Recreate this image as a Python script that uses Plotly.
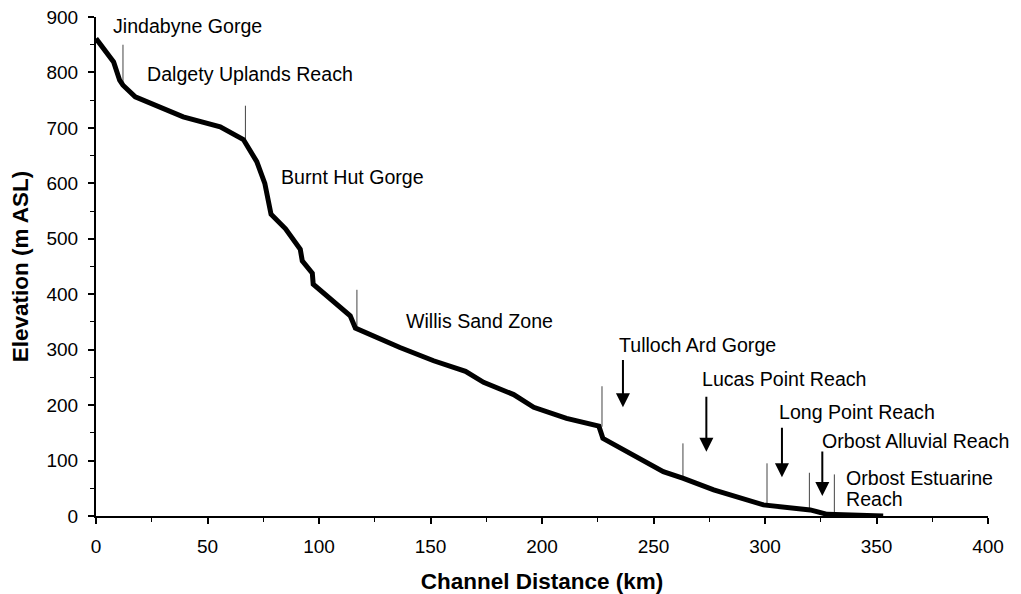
import plotly.graph_objects as go

# Long profile (channel distance km, elevation m ASL)
profile_km = [0, 7.9, 10.6, 12.1, 17.6, 39.1, 55.7, 66.1, 72.1, 75.7, 78.5, 85, 91.6, 92.5, 97,
              97.4, 114, 116.3, 136.3, 151.4, 165.7, 173.8, 187.3, 196.3, 211, 225.5, 227.3,
              236.4, 254.4, 263.4, 277, 299.3, 320.3, 327.9, 353]
profile_elev = [861, 819, 786, 777, 756, 720, 702, 679, 639, 600, 544, 518, 481, 460, 438,
                418, 361, 339, 304, 280, 261, 241, 219, 196, 176, 162, 140,
                119, 80, 68, 47, 20, 11, 3, 0]

# Reach boundary markers
divider_km = [12.1, 67, 117, 226.9, 263.2, 300.9, 319.9, 331.1]
divider_top = [850, 740, 408, 234, 131, 95, 78, 75]
divider_bottom = [777, 678, 338, 161, 68, 19, 11, 0]

# Reach labels
label_text = ["Jindabyne Gorge", "Dalgety Uplands Reach", "Burnt Hut Gorge", "Willis Sand Zone",
              "Tulloch Ard Gorge", "Lucas Point Reach", "Long Point Reach",
              "Orbost Alluvial Reach", "Orbost Estuarine", "Reach"]
label_km = [6.5, 22.1, 82.2, 137.9, 233.6, 270.9, 305.4, 324.8, 335.2, 335.2]
label_elev = [884, 798, 612, 351, 309, 247, 187, 135, 68, 30]

# Arrows pointing to short reaches
arrow_km = [236.3, 273.7, 307.6, 325.7]
arrow_top = [284, 218, 162, 119]
arrow_tip = [196, 116, 70, 36]

x_ticks = [0, 50, 100, 150, 200, 250, 300, 350, 400]
y_ticks = [0, 100, 200, 300, 400, 500, 600, 700, 800, 900]

FONT = "Liberation Sans, Arial, sans-serif"

fig = go.Figure()

dx, dy = [], []
for k, t, b in zip(divider_km, divider_top, divider_bottom):
    dx += [k, k, None]
    dy += [b, t, None]
fig.add_trace(go.Scatter(x=dx, y=dy, mode="lines",
                         line=dict(color="#444444", width=1), hoverinfo="skip"))

fig.add_trace(go.Scatter(x=profile_km, y=profile_elev, mode="lines",
                         line=dict(color="black", width=5)))

for t, x, y in zip(label_text, label_km, label_elev):
    fig.add_annotation(x=x, y=y, text=t, showarrow=False, xanchor="left", yanchor="middle",
                       font=dict(family=FONT, size=19.6, color="black"))

for k, top, tip in zip(arrow_km, arrow_top, arrow_tip):
    fig.add_annotation(x=k, y=tip, ax=k, ay=top, axref="x", ayref="y", text="",
                       showarrow=True, arrowhead=2, arrowsize=1.4, arrowwidth=2,
                       arrowcolor="black")

# The page body has an 8px default margin; the figure is offset by it.
fig.update_layout(
    width=1005, height=586,
    margin=dict(l=88, r=25, t=9, b=78),
    plot_bgcolor="white", paper_bgcolor="white",
    showlegend=False,
    font=dict(family=FONT, size=19, color="black"),
)
fig.update_xaxes(
    range=[0, 400], tickvals=x_ticks, ticks="outside", ticklen=6, tickwidth=2,
    tickcolor="black", showline=True, linewidth=2, linecolor="black",
    showgrid=False, zeroline=False, ticklabelstandoff=6, automargin=False,
    ticklabeloverflow="allow",
    minor=dict(dtick=25, ticks="outside", ticklen=4, tickwidth=1, tickcolor="black"),
    tickfont=dict(family=FONT, size=19, color="black"),
    title=dict(text="<b>Channel Distance (km)</b>", standoff=23,
               font=dict(family=FONT, size=22.5, color="black")),
)
fig.update_yaxes(
    range=[0, 900], tickvals=y_ticks, ticks="outside", ticklen=6, tickwidth=2,
    tickcolor="black", showline=True, linewidth=2, linecolor="black",
    showgrid=False, zeroline=False, ticklabelstandoff=6, automargin=False,
    ticklabeloverflow="allow",
    minor=dict(dtick=50, ticks="outside", ticklen=4, tickwidth=1, tickcolor="black"),
    tickfont=dict(family=FONT, size=19, color="black"),
    title=dict(text="<b>Elevation (m ASL)</b>", standoff=16,
               font=dict(family=FONT, size=22.5, color="black")),
)

fig.write_html("out.html")
